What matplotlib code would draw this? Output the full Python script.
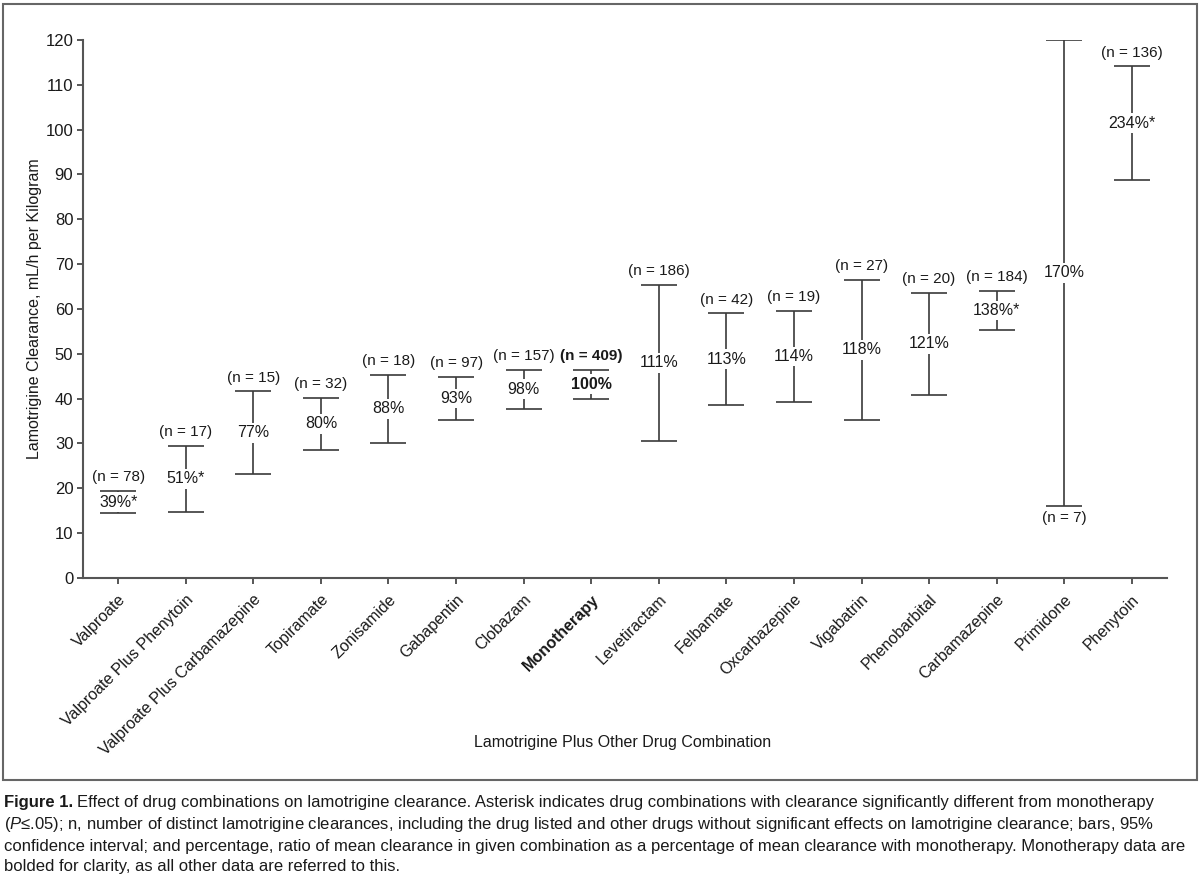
import matplotlib
matplotlib.use("Agg")
import matplotlib.pyplot as plt
from matplotlib import font_manager
from matplotlib.patches import Rectangle

# ----------------------------
# Data
# ----------------------------
drugs = ["Valproate", "Valproate Plus Phenytoin", "Valproate Plus Carbamazepine",
         "Topiramate", "Zonisamide", "Gabapentin", "Clobazam", "Monotherapy",
         "Levetiractam", "Felbamate", "Oxcarbazepine", "Vigabatrin",
         "Phenobarbital", "Carbamazepine", "Primidone", "Phenytoin"]
ci_low = [14.5, 14.8, 23.1, 28.6, 30.2, 35.2, 37.8, 39.9,
          30.6, 38.6, 39.3, 35.3, 40.8, 55.3, 16.1, 88.8]
ci_high = [19.4, 29.4, 41.6, 40.2, 45.3, 44.9, 46.5, 46.5,
           65.4, 59.0, 59.5, 66.5, 63.6, 64.0, 120.0, 114.1]
n_counts = [78, 17, 15, 32, 18, 97, 157, 409, 186, 42, 19, 27, 20, 184, 7, 136]
pct_labels = ["39%*", "51%*", "77%", "80%", "88%", "93%", "98%", "100%",
              "111%", "113%", "114%", "118%", "121%", "138%*", "170%", "234%*"]
bold_item = "Monotherapy"
n_below = ["Primidone"]

caption_head = "Figure 1."
caption_lines = [
    "Effect of drug combinations on lamotrigine clearance. Asterisk indicates drug combinations with clearance significantly different from monotherapy",
    "($\\it{P}$≤.05); n, number of distinct lamotrigine clearances, including the drug listed and other drugs without significant effects on lamotrigine clearance; bars, 95%",
    "confidence interval; and percentage, ratio of mean clearance in given combination as a percentage of mean clearance with monotherapy. Monotherapy data are",
    "bolded for clarity, as all other data are referred to this.",
]

# narrow font if available
names = {f.name for f in font_manager.fontManager.ttflist}
font = "Liberation Sans Narrow" if "Liberation Sans Narrow" in names else "Liberation Sans"
plt.rcParams["font.family"] = [font, "DejaVu Sans"]
plt.rcParams["mathtext.fontset"] = "custom"
plt.rcParams["mathtext.it"] = font + ":italic"
plt.rcParams["mathtext.rm"] = font

line_col = "#3a3a3a"
text_col = "#1a1a1a"

fig = plt.figure(figsize=(12, 8.85), dpi=100)
ax = fig.add_axes([0.0692, 0.3469, 0.9033, 0.6079])

x = list(range(len(drugs)))
mid = [(lo + hi) / 2 for lo, hi in zip(ci_low, ci_high)]
yerr = [[m - lo for m, lo in zip(mid, ci_low)], [hi - m for m, hi in zip(mid, ci_high)]]

ax.errorbar(x, mid, yerr=yerr, fmt="none", ecolor=line_col, elinewidth=1.2,
            capsize=13, capthick=1.2)

for i, name in enumerate(drugs):
    weight = "bold" if name == bold_item else "normal"
    ax.text(i, mid[i], pct_labels[i], ha="center", va="center", fontsize=11.5,
            color=text_col, weight=weight,
            bbox=dict(boxstyle="square,pad=0.15", fc="white", ec="none"))
    label = "(n = %d)" % n_counts[i]
    if name in n_below:
        ax.annotate(label, (i, ci_low[i]), xytext=(0, -4), textcoords="offset points",
                    ha="center", va="top", fontsize=11, color=text_col, weight=weight)
    else:
        ax.annotate(label, (i, ci_high[i]), xytext=(0, 5), textcoords="offset points",
                    ha="center", va="bottom", fontsize=11, color=text_col, weight=weight)

ax.set_xlim(-0.52, len(drugs) - 0.48)
ax.set_ylim(0, 120)
ax.set_yticks(range(0, 121, 10))
ax.set_xticks(x)
ax.set_xticklabels(drugs, rotation=45, ha="right", rotation_mode="anchor", fontsize=11.5,
                   color=text_col)
for lab in ax.get_xticklabels():
    if lab.get_text() == bold_item:
        lab.set_fontweight("bold")
ax.tick_params(axis="y", labelsize=12, labelcolor=text_col, length=4, width=1.2,
               color=line_col, pad=3)
ax.tick_params(axis="x", length=4, width=1.2, color=line_col, pad=6)
for s in ["top", "right"]:
    ax.spines[s].set_visible(False)
for s in ["left", "bottom"]:
    ax.spines[s].set_color("#555555")
    ax.spines[s].set_linewidth(1.5)

ax.set_ylabel("Lamotrigine Clearance, mL/h per Kilogram", fontsize=11.5, color=text_col)
ax.yaxis.set_label_coords(-0.038, 0.5)
fig.text(0.519, 1 - 743 / 885, "Lamotrigine Plus Other Drug Combination", ha="center",
         va="center", fontsize=11.5, color=text_col)

# border around the figure panel
fig.patches.append(Rectangle((0.0025, 1 - 780 / 885), 0.995, (780 - 4) / 885,
                             transform=fig.transFigure, fill=False, ec="#666666", lw=1.5))

# caption, sized so the longest line fits the width
ys = [803, 825, 846, 866]
cap_size = 12.5
renderer = fig.canvas.get_renderer()
widths = []
for i, line in enumerate(caption_lines):
    t = fig.text(0, 0, line, fontsize=cap_size)
    wd = t.get_window_extent(renderer).width
    t.remove()
    if i == 0:
        t = fig.text(0, 0, caption_head, fontsize=cap_size, weight="bold")
        wd += t.get_window_extent(renderer).width + 4
        t.remove()
    widths.append(wd)
cap_size = cap_size * min(1.0, 1180 / max(widths))

head = fig.text(0.003, 1 - ys[0] / 885, caption_head, weight="bold", fontsize=cap_size,
                va="center", ha="left", color=text_col)
hw = head.get_window_extent(renderer).width
fig.text(0.003 + (hw + 4) / 1200, 1 - ys[0] / 885, caption_lines[0], fontsize=cap_size,
         va="center", ha="left", color=text_col)
for y, line in zip(ys[1:], caption_lines[1:]):
    fig.text(0.003, 1 - y / 885, line, fontsize=cap_size, va="center", ha="left",
             color=text_col)

fig.savefig("out.png", dpi=100, facecolor="white")
